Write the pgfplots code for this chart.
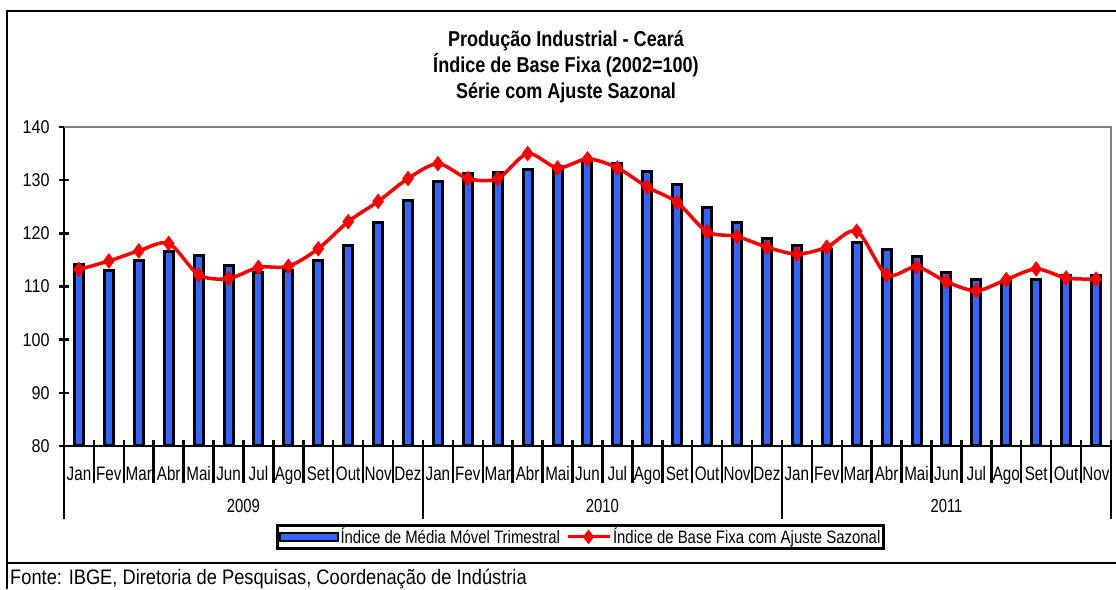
\documentclass[border=0pt]{standalone}
\usepackage{fontspec}
\setmainfont{Liberation Sans}
\newfontfamily\narrow{Liberation Sans}[FakeStretch=0.78]
\newfontfamily\semi{Liberation Sans}[FakeStretch=0.87]
\newfontfamily\leg{Liberation Sans}[FakeStretch=0.83]
\newfontfamily\tit{Liberation Sans}[FakeStretch=0.84]
\usepackage{pgfplots}
\pgfplotsset{compat=1.18}
\definecolor{barblue}{RGB}{51,102,255}
\definecolor{plotgray}{RGB}{128,128,128}
\begin{document}
\begin{tikzpicture}[x=1pt,y=1pt]
\path[use as bounding box] (0,0) rectangle (1116,589);
% outer frame
\draw[line width=2.5pt] (7,0) -- (7,578) -- (1120,578);
\draw[line width=2.5pt] (7,26) -- (1120,26);
% titles
\node[anchor=base, font=\tit\bfseries\fontsize{21.5}{25}\selectfont] at (566,542) {Produção Industrial - Ceará};
\node[anchor=base, font=\tit\bfseries\fontsize{21.5}{25}\selectfont] at (566,516) {Índice de Base Fixa (2002=100)};
\node[anchor=base, font=\tit\bfseries\fontsize{21.5}{25}\selectfont] at (566,490) {Série com Ajuste Sazonal};
% source
\node[anchor=base west, font=\semi\fontsize{21}{24}\selectfont, inner sep=0pt] at (10,5) {Fonte: IBGE, Diretoria de Pesquisas, Coordenação de Indústria};
\begin{axis}[
  at={(64pt,143pt)}, anchor=south west,
  scale only axis, width=1047pt, height=319pt,
  xmin=-0.5, xmax=34.5, ymin=80, ymax=140,
  clip=false,
  axis lines*=left,
  axis line style={line width=2.5pt, black},
  ytick={80,90,...,140},
  ytick align=center,
  major tick length=10pt,
  ytick style={line width=2.5pt, black},
  /pgf/number format/assume math mode=true,
  yticklabel style={font=\semi\fontsize{18.5}{21}\selectfont, xshift=-6pt},
  xtick={0,...,34},
  xticklabels={Jan,Fev,Mar,Abr,Mai,Jun,Jul,Ago,Set,Out,Nov,Dez,Jan,Fev,Mar,Abr,Mai,Jun,Jul,Ago,Set,Out,Nov,Dez,Jan,Fev,Mar,Abr,Mai,Jun,Jul,Ago,Set,Out,Nov},
  major x tick style={draw=none},
  xticklabel style={font=\narrow\fontsize{19.5}{22}\selectfont, anchor=base, yshift=-24pt},
  minor xtick={-0.5,0.5,...,34.5},
  xtick align=outside,
  minor tick length=37pt,
  minor x tick style={line width=2.5pt, black},
  legend columns=2,
  legend style={at={(0.4933,-0.285)}, anchor=center, draw=black, line width=2.5pt,
    font=\leg\fontsize{18}{21}\selectfont, inner sep=1pt,
    /tikz/every even column/.append style={column sep=4pt}},
  legend cell align=left,
]
\addplot[ybar, bar width=9pt, fill=barblue, draw=black, line width=3pt,
  legend image code/.code={\draw[fill=barblue,draw=black,line width=2pt] (0pt,-4pt) rectangle (58pt,4pt);}]
  coordinates {
  (0,114.2) (1,113.0) (2,114.8) (3,116.5) (4,115.8) (5,113.9) (6,112.6) (7,113.0) (8,114.8) (9,117.7) (10,122.0) (11,126.2)
  (12,129.8) (13,131.2) (14,131.4) (15,132.0) (16,132.5) (17,133.8) (18,133.1) (19,131.7) (20,129.2) (21,124.9) (22,122.1) (23,119.1)
  (24,117.8) (25,117.0) (26,118.2) (27,116.9) (28,115.6) (29,112.6) (30,111.4) (31,110.9) (32,111.4) (33,112.0) (34,112.0)
  };
\addlegendentry{Índice de Média Móvel Trimestral}
\addplot[red, line width=3.5pt, smooth, tension=0.5, mark=diamond*, mark size=7pt, mark options={fill=red, draw=red, line width=1pt},
  legend image code/.code={\draw[red,line width=3pt] (0pt,0pt) -- (42pt,0pt); \draw[red,fill=red,line width=1pt] (21pt,6.5pt) -- (26pt,0pt) -- (21pt,-6.5pt) -- (16pt,0pt) -- cycle;}]
  coordinates {
  (0,113.2) (1,114.8) (2,116.7) (3,118.1) (4,112.2) (5,111.5) (6,113.6) (7,113.8) (8,117.1) (9,122.2) (10,126.0) (11,130.3)
  (12,133.1) (13,130.3) (14,130.3) (15,135.0) (16,132.3) (17,134.0) (18,132.3) (19,128.7) (20,125.8) (21,120.3) (22,119.4) (23,117.4)
  (24,116.1) (25,117.4) (26,120.4) (27,112.2) (28,113.7) (29,110.9) (30,109.2) (31,111.3) (32,113.3) (33,111.6) (34,111.4)
  };
\addlegendentry{Índice de Base Fixa com Ajuste Sazonal}
% plot area border (top and right)
\draw[plotgray, line width=2.5pt] (rel axis cs:0,1) -- (rel axis cs:1,1) -- (rel axis cs:1,0);
% small tick stubs above the category axis
\pgfplotsinvokeforeach{-0.5,0.5,...,34.5}{\draw[line width=2.5pt] (axis cs:#1,80) -- ++(0pt,6pt);}
% year separators and labels
\draw[line width=2.5pt] (axis cs:-0.5,80) -- ++(0pt,-73pt);
\draw[line width=2.5pt] (axis cs:11.5,80) -- ++(0pt,-73pt);
\draw[line width=2.5pt] (axis cs:23.5,80) -- ++(0pt,-73pt);
\draw[line width=2.5pt] (axis cs:34.5,80) -- ++(0pt,-73pt);
\node[font=\narrow\fontsize{19}{22}\selectfont] at (axis cs:5.5,80) [yshift=-60pt] {2009};
\node[font=\narrow\fontsize{19}{22}\selectfont] at (axis cs:17.5,80) [yshift=-60pt] {2010};
\node[font=\narrow\fontsize{19}{22}\selectfont] at (axis cs:29,80) [yshift=-60pt] {2011};
\end{axis}
\end{tikzpicture}
\end{document}
